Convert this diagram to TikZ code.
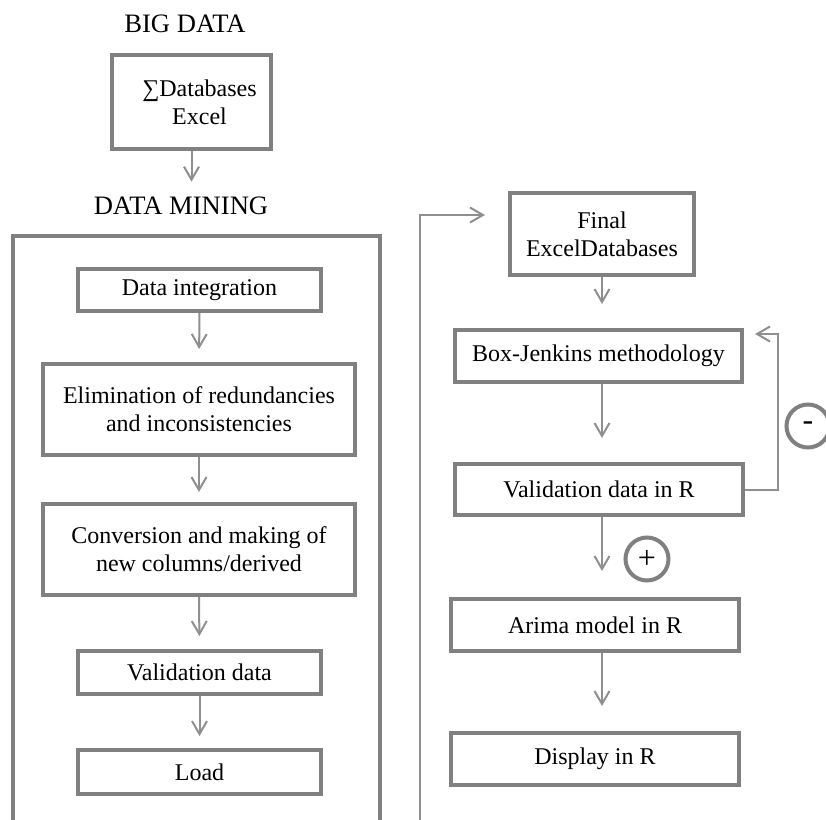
\documentclass[tikz,border=0pt]{standalone}
\usepackage{fontspec}
\setmainfont{Liberation Serif}
\usetikzlibrary{arrows.meta}
\definecolor{boxgray}{gray}{0.5}
\definecolor{linegray}{gray}{0.56}
\begin{document}
\begin{tikzpicture}[x=0.5pt,y=-0.5pt,
  box/.style={draw=boxgray,line width=2pt,inner sep=0pt,align=center,font=\fontsize{12}{14}\selectfont},
  heading/.style={inner sep=0pt,font=\fontsize{13.3}{16}\selectfont},
  sign/.style={circle,draw=boxgray,line width=2pt,minimum size=21.5pt,inner sep=0pt,font=\fontsize{16}{18}\selectfont},
  flow/.style={draw=linegray,line width=1pt,-{Straight Barb[length=6.5pt,width=7.5pt]}}]
\useasboundingbox (0,0) rectangle (826,820);
% source and data mining block
\node[heading] (big) at (185,24) {BIG DATA};
\node[box,minimum width=79.5pt,minimum height=47pt] (src) at (191.5,102) {\hspace*{8pt}∑Databases\\\hspace*{8pt}Excel};
\node[heading] (dm) at (181,206) {DATA MINING};
\draw[draw=boxgray,line width=2pt] (13,824) -- (13,236) -- (380,236) -- (380,824);
\node[box,minimum width=121.5pt,minimum height=21pt] (integ) at (199.5,290) {Data integration};
\node[box,minimum width=156pt,minimum height=45.5pt] (elim) at (199,409.5) {Elimination of redundancies\\and inconsistencies};
\node[box,minimum width=156pt,minimum height=45.5pt] (conv) at (199,549.5) {Conversion and making of\\new columns/derived};
\node[box,minimum width=121.5pt,minimum height=21.5pt] (valid) at (199.5,672.5) {Validation data};
\node[box,minimum width=121.5pt,minimum height=22pt] (load) at (199.5,772) {Load};
% modelling in R
\node[box,minimum width=92pt,minimum height=41pt] (final) at (602,234) {Final\\ExcelDatabases};
\node[box,minimum width=143.5pt,minimum height=26pt] (bj) at (598.5,356) {Box-Jenkins methodology};
\node[box,minimum width=144pt,minimum height=25.5pt] (valr) at (599,489.5) {Validation data in R};
\node[box,minimum width=144pt,minimum height=26pt] (arima) at (595,625) {Arima model in R};
\node[box,minimum width=144pt,minimum height=26pt] (disp) at (595,759) {Display in R};
\node[sign] (minus) at (808,426) {-};
\node[sign] (plus) at (647,559) {+};
\coordinate (loopin) at (420,824);
\coordinate (fbL) at (420,215);
\coordinate (fbR) at (778,334);
\draw[flow,shorten >=7.5pt] (src.south) -- (src.south |- dm.north);
\draw[flow,shorten >=6.5pt] (integ.south) -- (elim.north);
\draw[flow,shorten >=5pt] (elim.south) -- (conv.north);
\draw[flow,shorten >=6.5pt] (conv.south) -- (valid.north);
\draw[flow,shorten >=6pt] (valid.south) -- (load.north);
\draw[flow,shorten >=12pt] (final.south) -- (final.south |- bj.north);
\draw[flow,shorten >=12pt] (bj.south -| final.south) -- (final.south |- valr.north);
\draw[flow,shorten >=13pt] (valr.south -| final.south) -- (final.south |- arima.north);
\draw[flow,shorten >=12.5pt] (arima.south -| final.south) -- (final.south |- disp.north);
\draw[flow,shorten >=5.5pt] (valr.east) -| (fbR) -- (fbR -| bj.east);
\draw[flow,shorten >=11.5pt] (loopin) -- (fbL) -- (fbL -| final.west);
\end{tikzpicture}
\end{document}
